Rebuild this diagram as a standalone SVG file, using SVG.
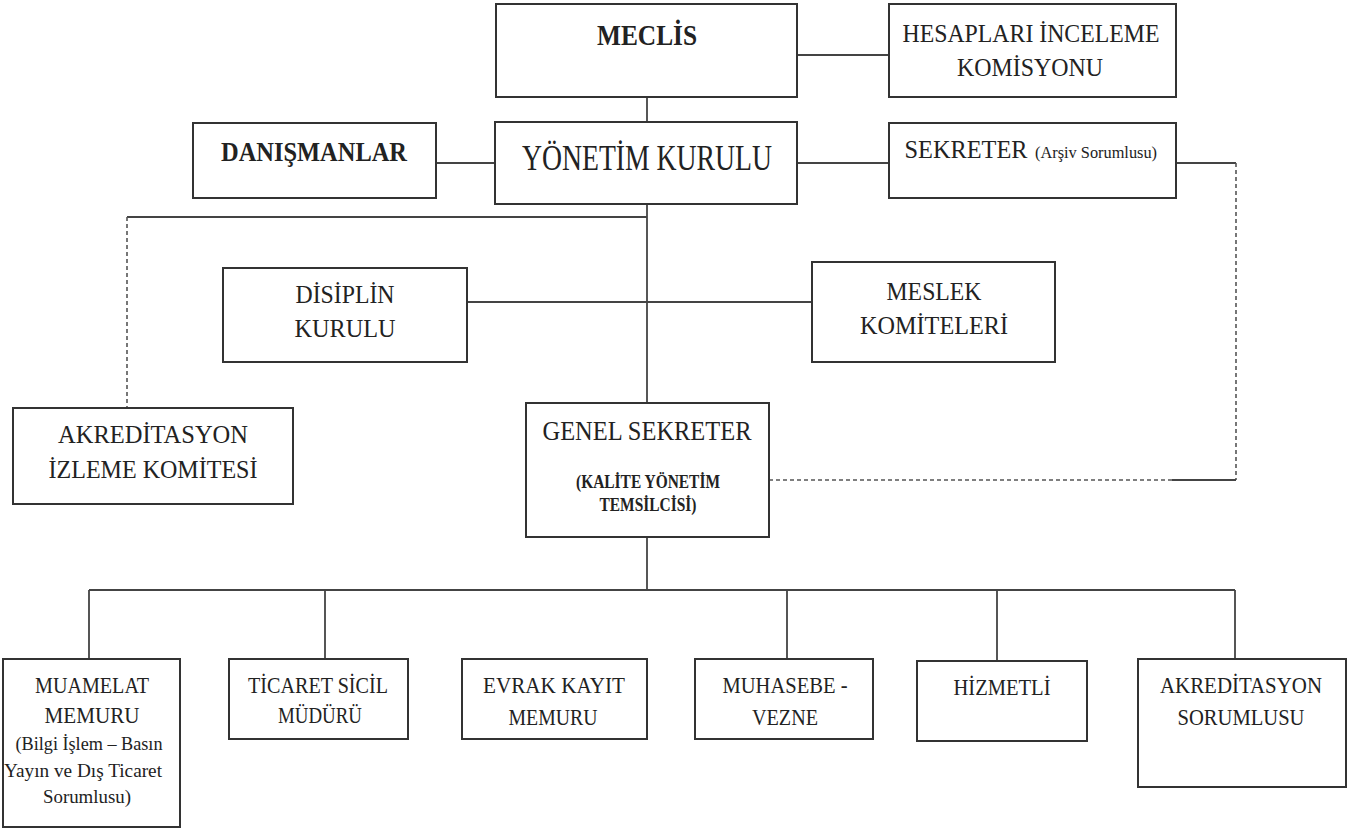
<svg xmlns="http://www.w3.org/2000/svg" width="1358" height="830" viewBox="0 0 1358 830">
<style>
.box{fill:#fff;stroke:#333;stroke-width:2}
.ln{fill:none;stroke:#444;stroke-width:1.8}
.dash{fill:none;stroke:#555;stroke-width:1.6;stroke-dasharray:4 3}
.t{font-family:'Liberation Serif';fill:#222;text-anchor:middle}
.b{font-weight:bold}
</style>
<rect width="1358" height="830" fill="#fff"/>
<g id="connectors">
<path class="ln" d="M797 55H889"/>
<path class="ln" d="M647 97V122"/>
<path class="ln" d="M436 163H495"/>
<path class="ln" d="M797 163H889"/>
<path class="ln" d="M1176 163H1236"/>
<path class="dash" d="M1236 163V480"/>
<path class="ln" d="M1236 480H1172"/>
<path class="dash" d="M1172 480H769"/>
<path class="ln" d="M647 204V403"/>
<path class="ln" d="M647 217H127"/>
<path class="dash" d="M127 217V408"/>
<path class="ln" d="M467 302H812"/>
<path class="ln" d="M647 537V590"/>
<path class="ln" d="M89 590H1235"/>
<path class="ln" d="M89 590V659M325 590V659M787 590V659M997 590V661M1235 590V659"/>
</g>
<g id="meclis">
<rect class="box" x="496" y="4" width="301" height="93"/>
<text class="t b" x="647" y="45" font-size="29" textLength="100" lengthAdjust="spacingAndGlyphs">MECLİS</text>
</g>
<g id="hesaplari">
<rect class="box" x="889" y="4" width="287" height="93"/>
<text class="t" x="1031" y="42" font-size="25" textLength="257" lengthAdjust="spacingAndGlyphs">HESAPLARI İNCELEME</text>
<text class="t" x="1030" y="76" font-size="25" textLength="146" lengthAdjust="spacingAndGlyphs">KOMİSYONU</text>
</g>
<g id="danismanlar">
<rect class="box" x="193" y="123" width="243" height="75"/>
<text class="t b" x="314" y="161" font-size="28" textLength="186" lengthAdjust="spacingAndGlyphs">DANIŞMANLAR</text>
</g>
<g id="yonetim">
<rect class="box" x="495" y="122" width="302" height="82"/>
<text class="t" x="647" y="170" font-size="36" textLength="250" lengthAdjust="spacingAndGlyphs">YÖNETİM  KURULU</text>
</g>
<g id="sekreter">
<rect class="box" x="889" y="123" width="287" height="75"/>
<text class="t" x="966" y="158" font-size="25" textLength="123" lengthAdjust="spacingAndGlyphs">SEKRETER</text>
<text class="t" x="1096" y="158" font-size="16" textLength="122" lengthAdjust="spacingAndGlyphs">(Arşiv Sorumlusu)</text>
</g>
<g id="disiplin">
<rect class="box" x="223" y="268" width="244" height="94"/>
<text class="t" x="345" y="303" font-size="26" textLength="99" lengthAdjust="spacingAndGlyphs">DİSİPLİN</text>
<text class="t" x="345" y="337" font-size="26" textLength="101" lengthAdjust="spacingAndGlyphs">KURULU</text>
</g>
<g id="meslek">
<rect class="box" x="812" y="262" width="243" height="100"/>
<text class="t" x="934" y="300" font-size="26" textLength="95" lengthAdjust="spacingAndGlyphs">MESLEK</text>
<text class="t" x="934" y="334" font-size="26" textLength="148" lengthAdjust="spacingAndGlyphs">KOMİTELERİ</text>
</g>
<g id="akreditasyon-izleme">
<rect class="box" x="13" y="408" width="280" height="96"/>
<text class="t" x="153" y="443" font-size="26" textLength="190" lengthAdjust="spacingAndGlyphs">AKREDİTASYON</text>
<text class="t" x="153" y="478" font-size="26" textLength="209" lengthAdjust="spacingAndGlyphs">İZLEME KOMİTESİ</text>
</g>
<g id="genel-sekreter">
<rect class="box" x="526" y="403" width="243" height="134"/>
<text class="t" x="647" y="440" font-size="27" textLength="209" lengthAdjust="spacingAndGlyphs">GENEL SEKRETER</text>
<text class="t b" x="648" y="488" font-size="19" textLength="144" lengthAdjust="spacingAndGlyphs">(KALİTE YÖNETİM</text>
<text class="t b" x="648" y="511" font-size="19" textLength="97" lengthAdjust="spacingAndGlyphs">TEMSİLCİSİ)</text>
</g>
<g id="muamelat">
<rect class="box" x="3" y="659" width="177" height="168"/>
<text class="t" x="92" y="693" font-size="23" textLength="114" lengthAdjust="spacingAndGlyphs">MUAMELAT</text>
<text class="t" x="92" y="723" font-size="23" textLength="95" lengthAdjust="spacingAndGlyphs">MEMURU</text>
<text class="t" x="89" y="750" font-size="19" textLength="147" lengthAdjust="spacingAndGlyphs">(Bilgi  İşlem – Basın</text>
<text class="t" x="83" y="777" font-size="19" textLength="158" lengthAdjust="spacingAndGlyphs">Yayın ve Dış Ticaret</text>
<text class="t" x="87" y="803" font-size="19" textLength="88" lengthAdjust="spacingAndGlyphs">Sorumlusu)</text>
</g>
<g id="ticaret-sicil">
<rect class="box" x="229" y="659" width="179" height="80"/>
<text class="t" x="318" y="693" font-size="23" textLength="140" lengthAdjust="spacingAndGlyphs">TİCARET SİCİL</text>
<text class="t" x="320" y="723" font-size="23" textLength="84" lengthAdjust="spacingAndGlyphs">MÜDÜRÜ</text>
</g>
<g id="evrak-kayit">
<rect class="box" x="462" y="659" width="185" height="80"/>
<text class="t" x="554" y="693" font-size="23" textLength="142" lengthAdjust="spacingAndGlyphs">EVRAK KAYIT</text>
<text class="t" x="553" y="725" font-size="23" textLength="89" lengthAdjust="spacingAndGlyphs">MEMURU</text>
</g>
<g id="muhasebe">
<rect class="box" x="695" y="659" width="178" height="80"/>
<text class="t" x="785" y="693" font-size="23" textLength="125" lengthAdjust="spacingAndGlyphs">MUHASEBE -</text>
<text class="t" x="785" y="725" font-size="23" textLength="66" lengthAdjust="spacingAndGlyphs">VEZNE</text>
</g>
<g id="hizmetli">
<rect class="box" x="917" y="661" width="170" height="80"/>
<text class="t" x="1002" y="695" font-size="23" textLength="97" lengthAdjust="spacingAndGlyphs">HİZMETLİ</text>
</g>
<g id="akreditasyon-sorumlusu">
<rect class="box" x="1138" y="659" width="208" height="128"/>
<text class="t" x="1241" y="693" font-size="23" textLength="162" lengthAdjust="spacingAndGlyphs">AKREDİTASYON</text>
<text class="t" x="1241" y="725" font-size="23" textLength="127" lengthAdjust="spacingAndGlyphs">SORUMLUSU</text>
</g>
</svg>
